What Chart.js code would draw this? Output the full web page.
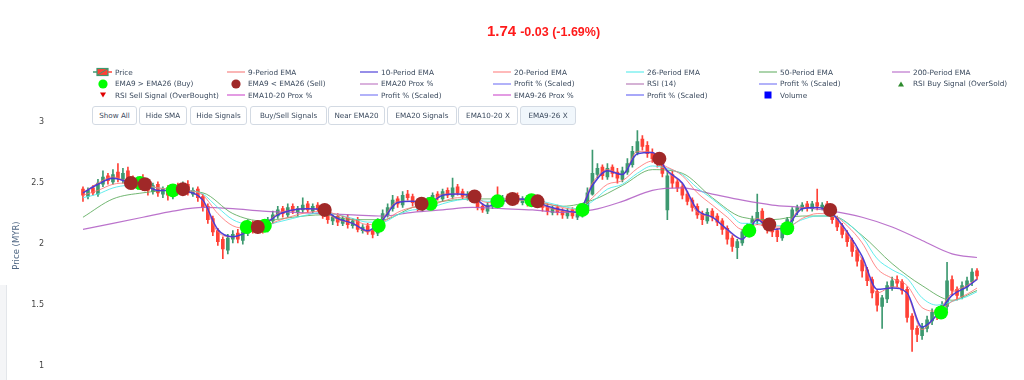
<!DOCTYPE html>
<html>
<head>
<meta charset="utf-8">
<script src="https://cdn.jsdelivr.net/npm/chart.js@4.4.1/dist/chart.umd.min.js"></script>
<style>
  html, body { margin:0; padding:0; background:#fff; width:1024px; height:380px; overflow:hidden; }
  #wrap { position:relative; width:1024px; height:380px; overflow:hidden; font-family:"DejaVu Sans", Verdana, sans-serif; }
  #c { position:absolute; left:0; top:0; }
  #title { position:absolute; left:487px; top:22px; color:#ff1a1a; font-family:"Liberation Sans", Arial, sans-serif; font-weight:bold; white-space:nowrap; }
  #title .big { font-size:15px; }
  #title .small { font-size:12.5px; margin-left:4px; }
  .li { position:absolute; height:11px; display:flex; align-items:center; white-space:nowrap; font-size:7.3px; color:#3b4a5e; }
  .li svg { width:20px; height:10px; margin-right:2px; flex:none; }
  .btn { position:absolute; top:106px; height:19px; box-sizing:border-box; border:1px solid #d3dae3; border-radius:3px; background:#fff;
         font-size:7.2px; color:#3b4a5e; display:flex; align-items:center; justify-content:center; white-space:nowrap; }
  .btn.active { background:#f1f7fc; }
  #side { position:absolute; left:0; top:285px; width:6px; height:95px; background:#f4f5f7; border-right:1px solid #e3e6ea; }
</style>
</head>
<body>
<div id="wrap">
  <canvas id="c" width="1024" height="397"></canvas>
  <div id="side"></div>
  <div id="title"><span class="big">1.74</span><span class="small">-0.03 (-1.69%)</span></div>
  <div id="legend"></div>
  <div id="buttons"></div>
</div>
<script>
// ---------------- DATA ----------------
const openP = [
 2.45,2.39,2.46,2.41,2.49,2.56,2.51,2.59,2.53,2.60,
 2.53,2.47,2.54,2.48,2.43,2.49,2.41,2.46,2.39,2.47,
 2.43,2.49,2.41,2.45,2.39,2.31,2.21,2.11,2.04,1.95,
 2.04,2.09,2.03,2.09,2.17,2.11,2.16,2.12,2.19,2.23,
 2.29,2.24,2.31,2.26,2.28,2.33,2.27,2.32,2.30,2.25,
 2.19,2.23,2.17,2.22,2.15,2.20,2.11,2.15,2.11,2.09,
 2.17,2.24,2.29,2.37,2.32,2.41,2.39,2.35,2.29,2.32,
 2.35,2.41,2.37,2.44,2.39,2.47,2.43,2.38,2.42,2.37,
 2.31,2.27,2.31,2.37,2.33,2.39,2.35,2.40,2.34,2.38,
 2.33,2.37,2.33,2.31,2.26,2.30,2.27,2.23,2.28,2.22,
 2.24,2.29,2.41,2.57,2.63,2.55,2.63,2.59,2.53,2.59,
 2.65,2.75,2.86,2.81,2.75,2.71,2.67,2.28,2.57,2.51,
 2.47,2.41,2.36,2.31,2.25,2.19,2.27,2.23,2.19,2.13,
 2.05,1.97,2.01,2.09,2.13,2.19,2.27,2.19,2.13,2.11,
 2.05,2.11,2.19,2.27,2.29,2.33,2.29,2.34,2.30,2.33,
 2.27,2.21,2.15,2.09,2.03,1.95,1.87,1.79,1.71,1.61,
 1.49,1.55,1.65,1.71,1.69,1.63,1.41,1.31,1.25,1.31,
 1.37,1.45,1.41,1.49,1.71,1.63,1.57,1.65,1.69,1.78
];
const highP = [
 2.47,2.46,2.48,2.53,2.60,2.58,2.61,2.66,2.62,2.63,
 2.56,2.55,2.57,2.50,2.50,2.51,2.47,2.48,2.49,2.50,
 2.51,2.52,2.46,2.47,2.41,2.33,2.23,2.13,2.06,2.08,
 2.11,2.12,2.13,2.20,2.19,2.18,2.18,2.22,2.27,2.31,
 2.31,2.33,2.33,2.31,2.38,2.35,2.33,2.34,2.32,2.27,
 2.24,2.25,2.23,2.24,2.21,2.22,2.16,2.17,2.13,2.21,
 2.28,2.33,2.40,2.39,2.43,2.44,2.41,2.37,2.35,2.38,
 2.42,2.43,2.45,2.46,2.54,2.49,2.45,2.43,2.44,2.39,
 2.33,2.34,2.38,2.47,2.40,2.41,2.41,2.42,2.39,2.40,
 2.38,2.39,2.35,2.33,2.31,2.32,2.29,2.29,2.30,2.27,
 2.33,2.46,2.77,2.66,2.65,2.66,2.65,2.62,2.63,2.70,
 2.80,2.93,2.89,2.84,2.78,2.74,2.69,2.60,2.60,2.53,
 2.49,2.43,2.38,2.33,2.27,2.29,2.29,2.25,2.21,2.15,
 2.07,2.04,2.12,2.17,2.23,2.41,2.29,2.21,2.15,2.13,
 2.14,2.22,2.30,2.32,2.34,2.35,2.35,2.45,2.34,2.35,
 2.29,2.23,2.17,2.11,2.05,1.97,1.89,1.81,1.73,1.63,
 1.58,1.69,1.73,1.74,1.71,1.65,1.43,1.33,1.35,1.41,
 1.47,1.48,1.53,1.85,1.74,1.65,1.69,1.73,1.80,1.80
];
const lowP = [
 2.35,2.37,2.40,2.39,2.47,2.49,2.49,2.51,2.50,2.49,
 2.45,2.45,2.44,2.40,2.41,2.39,2.38,2.36,2.37,2.42,
 2.41,2.40,2.39,2.35,2.27,2.17,2.07,1.99,1.88,1.92,
 2.01,2.01,2.00,2.07,2.09,2.09,2.09,2.10,2.17,2.21,
 2.22,2.22,2.25,2.23,2.26,2.26,2.25,2.27,2.21,2.17,
 2.16,2.15,2.15,2.13,2.13,2.10,2.09,2.08,2.05,2.07,
 2.15,2.22,2.27,2.30,2.30,2.36,2.31,2.27,2.27,2.30,
 2.33,2.36,2.35,2.38,2.37,2.40,2.37,2.36,2.34,2.28,
 2.26,2.25,2.29,2.32,2.31,2.34,2.33,2.33,2.32,2.31,
 2.31,2.30,2.27,2.24,2.24,2.24,2.21,2.21,2.21,2.20,
 2.22,2.27,2.40,2.54,2.53,2.53,2.55,2.50,2.51,2.57,
 2.63,2.73,2.77,2.71,2.67,2.63,2.55,2.20,2.46,2.43,
 2.37,2.32,2.27,2.21,2.16,2.17,2.19,2.15,2.08,2.00,
 1.94,1.88,1.99,2.06,2.11,2.16,2.15,2.09,2.06,2.02,
 2.03,2.09,2.17,2.24,2.27,2.27,2.27,2.28,2.28,2.23,
 2.17,2.11,2.05,1.98,1.90,1.82,1.73,1.66,1.56,1.45,
 1.31,1.52,1.62,1.65,1.59,1.36,1.12,1.20,1.22,1.28,
 1.34,1.38,1.39,1.46,1.58,1.54,1.55,1.62,1.66,1.71
];
const closeP = [
 2.40,2.44,2.42,2.50,2.55,2.52,2.57,2.54,2.58,2.52,
 2.48,2.53,2.47,2.44,2.48,2.42,2.45,2.40,2.46,2.44,
 2.48,2.42,2.44,2.38,2.30,2.20,2.10,2.02,1.96,2.05,
 2.08,2.04,2.10,2.16,2.12,2.15,2.12,2.20,2.24,2.28,
 2.25,2.30,2.27,2.29,2.32,2.28,2.31,2.29,2.24,2.20,
 2.22,2.18,2.21,2.16,2.19,2.12,2.14,2.10,2.08,2.18,
 2.25,2.30,2.36,2.33,2.40,2.38,2.34,2.30,2.33,2.36,
 2.40,2.38,2.43,2.40,2.46,2.42,2.39,2.41,2.36,2.30,
 2.28,2.32,2.36,2.34,2.38,2.36,2.39,2.35,2.37,2.34,
 2.36,2.32,2.30,2.27,2.29,2.26,2.24,2.27,2.23,2.25,
 2.30,2.42,2.58,2.62,2.56,2.62,2.58,2.54,2.60,2.66,
 2.76,2.84,2.80,2.74,2.70,2.66,2.58,2.56,2.50,2.46,
 2.40,2.35,2.30,2.24,2.20,2.26,2.22,2.18,2.12,2.04,
 1.98,2.02,2.10,2.14,2.20,2.26,2.18,2.12,2.10,2.06,
 2.12,2.20,2.28,2.30,2.32,2.30,2.33,2.31,2.32,2.26,
 2.20,2.14,2.08,2.02,1.94,1.86,1.78,1.70,1.60,1.50,
 1.56,1.66,1.70,1.68,1.62,1.40,1.30,1.26,1.32,1.38,
 1.44,1.42,1.50,1.70,1.62,1.58,1.66,1.70,1.77,1.74
];

// sample positions (candle index) for the moving-average lines
const fastIdx = [0,3,6,9,12,15,18,21,24,27,30,33,36,39,42,45,48,51,54,57,
  60,63,66,69,72,75,78,81,84,87,90,93,96,99,102,105,108,111,114,117,
  120,123,126,129,132,135,138,141,144,147,150,153,156,159,162,165,168,171,174,177,179];
const slowIdx = [0,6,12,18,24,30,36,42,48,54,60,66,72,78,84,90,96,102,108,114,
  120,126,132,138,144,150,156,162,168,174,179];

const ema9 = [2.42,2.50,2.55,2.51,2.48,2.44,2.44,2.43,2.35,2.10,
  2.06,2.11,2.15,2.25,2.28,2.29,2.27,2.20,2.17,2.10,
  2.21,2.35,2.35,2.33,2.41,2.41,2.38,2.31,2.35,2.37,
  2.35,2.30,2.27,2.26,2.50,2.61,2.57,2.76,2.75,2.59,
  2.49,2.26,2.22,2.11,2.04,2.21,2.12,2.16,2.30,2.30,
  2.24,2.08,1.87,1.60,1.65,1.59,1.30,1.43,1.60,1.66,1.72];
const ema10 = [2.42,2.49,2.54,2.51,2.49,2.44,2.44,2.43,2.36,2.12,
  2.06,2.10,2.15,2.24,2.28,2.29,2.28,2.21,2.17,2.11,
  2.20,2.34,2.35,2.33,2.40,2.41,2.39,2.31,2.35,2.37,
  2.36,2.31,2.28,2.26,2.48,2.60,2.57,2.74,2.75,2.60,
  2.50,2.28,2.22,2.12,2.04,2.20,2.12,2.15,2.29,2.30,
  2.25,2.10,1.90,1.63,1.64,1.60,1.32,1.42,1.58,1.65,1.71];
const ema20 = [2.40,2.44,2.49,2.50,2.49,2.46,2.45,2.44,2.40,2.25,
  2.15,2.13,2.14,2.19,2.23,2.26,2.27,2.24,2.20,2.16,
  2.18,2.26,2.30,2.31,2.35,2.38,2.38,2.34,2.35,2.36,
  2.36,2.33,2.30,2.28,2.38,2.49,2.52,2.62,2.68,2.63,
  2.56,2.42,2.32,2.22,2.12,2.16,2.14,2.14,2.21,2.25,
  2.24,2.15,2.01,1.80,1.72,1.66,1.48,1.45,1.53,1.59,1.64];
const ema26 = [2.38,2.41,2.46,2.48,2.48,2.46,2.45,2.44,2.41,2.30,
  2.20,2.16,2.15,2.18,2.21,2.24,2.26,2.24,2.21,2.18,
  2.18,2.24,2.28,2.29,2.33,2.36,2.37,2.35,2.35,2.36,
  2.36,2.34,2.31,2.29,2.35,2.45,2.49,2.58,2.64,2.62,
  2.57,2.46,2.37,2.27,2.17,2.17,2.15,2.15,2.20,2.23,
  2.23,2.17,2.06,1.88,1.79,1.72,1.56,1.50,1.53,1.57,1.61];
const ema50 = [2.22,2.37,2.42,2.44,2.42,2.25,2.19,2.22,2.24,2.20,
  2.20,2.30,2.35,2.37,2.37,2.35,2.31,2.36,2.48,2.61,
  2.58,2.38,2.22,2.20,2.23,2.23,2.07,1.84,1.66,1.54,1.62];
const ema200 = [2.12,2.17,2.22,2.27,2.30,2.29,2.27,2.26,2.25,2.24,
  2.23,2.26,2.28,2.30,2.29,2.28,2.26,2.28,2.35,2.44,
  2.46,2.41,2.36,2.32,2.30,2.27,2.22,2.14,2.03,1.92,1.89];

// EMA9/EMA26 crossover signals (candle position, price)
const buyIdx  = [11.4,18,32.8,36.4,59.2,69.6,83,89.8,100,133.4,141,171.8];
const buyVal  = [2.50,2.44,2.14,2.15,2.15,2.33,2.35,2.36,2.28,2.11,2.13,1.44];
const sellIdx = [9.6,12.4,20,35,48.4,67.8,78.4,86,91,115.4,137.4,149.6];
const sellVal = [2.50,2.49,2.45,2.14,2.28,2.33,2.39,2.37,2.35,2.70,2.16,2.28];

const yTicks = [1, 1.5, 2, 2.5, 3];
const buttonLabels = ['Show All','Hide SMA','Hide Signals','Buy/Sell Signals','Near EMA20','EMA20 Signals','EMA10-20 X','EMA9-26 X'];

// ---------------- CHART ----------------
const UP = '#3D9970', DOWN = '#FF4136';
const candleIdx = closeP.map((_, i) => i);
const candleColor = ctx => (closeP[ctx.dataIndex] >= openP[ctx.dataIndex] ? UP : DOWN);
const pts = (xs, ys) => xs.map((x, k) => ({ x: x, y: ys[k] }));
const lineDs = (label, xs, ys, color, width, order) => ({
  type: 'line', label, data: pts(xs, ys), borderColor: color, backgroundColor: color,
  borderWidth: width, pointRadius: 0, fill: false, cubicInterpolationMode: 'monotone', order, legendType: 'line'
});
const legendOnly = (label, color, legendType) => ({ type: 'line', label, data: [], borderColor: color, backgroundColor: color, legendType });

const datasets = [
  { type: 'bar', label: 'Price', legendType: 'candle', order: 20, grouped: false, barThickness: 3, minBarLength: 1,
    data: candleIdx.map(i => ({ x: i, y: [openP[i], closeP[i]] })), backgroundColor: candleColor },
  { type: 'bar', label: 'Price range', legendSkip: true, order: 21, grouped: false, barThickness: 1,
    data: candleIdx.map(i => ({ x: i, y: [lowP[i], highP[i]] })), backgroundColor: candleColor },
  lineDs('9-Period EMA', fastIdx, ema9, 'rgba(245,110,110,0.85)', 1, 3),
  lineDs('10-Period EMA', fastIdx, ema10, 'rgba(70,55,215,0.95)', 1.5, 2),
  lineDs('20-Period EMA', fastIdx, ema20, 'rgba(255,110,110,0.8)', 1, 4),
  lineDs('26-Period EMA', fastIdx, ema26, 'rgba(80,235,235,0.9)', 1, 5),
  lineDs('50-Period EMA', slowIdx, ema50, 'rgba(90,170,90,0.85)', 1, 6),
  lineDs('200-Period EMA', slowIdx, ema200, 'rgba(175,90,195,0.85)', 1.2, 7),
  { type: 'scatter', label: 'EMA9 > EMA26 (Buy)', legendType: 'circle', order: 1, data: pts(buyIdx, buyVal),
    pointRadius: 7, pointHoverRadius: 7, backgroundColor: '#00ff00', borderColor: '#00ff00', borderWidth: 0 },
  { type: 'scatter', label: 'EMA9 < EMA26 (Sell)', legendType: 'circle', order: 0, data: pts(sellIdx, sellVal),
    pointRadius: 7, pointHoverRadius: 7, backgroundColor: '#a02828', borderColor: '#a02828', borderWidth: 0 },
  legendOnly('EMA20 Prox %', '#c27fc7', 'line'),
  legendOnly('Profit % (Scaled)', '#7f7ff5', 'line'),
  legendOnly('RSI (14)', '#b97fb9', 'line'),
  legendOnly('Profit % (Scaled)', '#7f7ff5', 'line'),
  legendOnly('RSI Buy Signal (OverSold)', '#2e8b2e', 'triUp'),
  legendOnly('RSI Sell Signal (OverBought)', '#e00000', 'triDown'),
  legendOnly('EMA10-20 Prox %', '#d05ad0', 'line'),
  legendOnly('Profit % (Scaled)', '#7f7ff5', 'line'),
  legendOnly('EMA9-26 Prox %', '#d05ad0', 'line'),
  legendOnly('Profit % (Scaled)', '#6f6ff5', 'line'),
  legendOnly('Volume', '#0000ff', 'square')
];

const chart = new Chart(document.getElementById('c'), {
  type: 'bar',
  data: { datasets },
  options: {
    responsive: false,
    animation: false,
    events: [],
    layout: { padding: { top: 115, bottom: 5, left: 0, right: 24 } },
    plugins: { legend: { display: false }, tooltip: { enabled: false } },
    scales: {
      x: { type: 'linear', min: -4.6, max: 183.6, display: false, offset: false, grid: { display: false } },
      y: {
        type: 'linear', min: 0.9177, max: 3.0576,
        grid: { display: false, drawTicks: false }, border: { display: false },
        afterFit(s) { s.width = 60; },
        afterBuildTicks(s) { s.ticks = yTicks.map(v => ({ value: v })); },
        ticks: { padding: 16, color: '#444', font: { family: 'DejaVu Sans', size: 8 }, callback: v => String(v) },
        title: { display: true, text: 'Price (MYR)', color: '#506784', font: { family: 'DejaVu Sans', size: 8.5 }, padding: { top: 12, bottom: 0 } }
      }
    }
  }
});

// ---------------- HTML LEGEND (built from the chart's datasets) ----------------
function symbolSvg(ds) {
  const c = ds.borderColor;
  switch (ds.legendType) {
    case 'candle':
      return '<svg viewBox="0 0 20 10"><line x1="0" y1="5" x2="4" y2="5" stroke="' + UP + '" stroke-width="1.5"/>' +
             '<rect x="4" y="1.5" width="11" height="7" fill="' + DOWN + '" stroke="' + UP + '" stroke-width="1.2"/>' +
             '<line x1="4" y1="8.5" x2="15" y2="1.5" stroke="' + UP + '" stroke-width="1"/>' +
             '<line x1="15" y1="5" x2="19" y2="5" stroke="' + DOWN + '" stroke-width="1.5"/></svg>';
    case 'circle':
      return '<svg viewBox="0 0 20 10"><circle cx="10" cy="5" r="4.6" fill="' + c + '"/></svg>';
    case 'triUp':
      return '<svg viewBox="0 0 20 10"><polygon points="7,7.5 13,7.5 10,2.5" fill="' + c + '"/></svg>';
    case 'triDown':
      return '<svg viewBox="0 0 20 10"><polygon points="7,2.5 13,2.5 10,7.5" fill="' + c + '"/></svg>';
    case 'square':
      return '<svg viewBox="0 0 20 10"><rect x="6.5" y="1.5" width="7" height="7" fill="' + c + '"/></svg>';
    default:
      return '<svg viewBox="0 0 20 10"><line x1="1" y1="5" x2="19" y2="5" stroke="' + c + '" stroke-width="1.2"/></svg>';
  }
}
const legendBox = document.getElementById('legend');
let k = 0;
chart.data.datasets.forEach(ds => {
  if (ds.legendSkip) return;
  const col = k % 7, row = Math.floor(k / 7); k++;
  const item = document.createElement('div');
  item.className = 'li';
  item.style.left = (93 + 133 * col) + 'px';
  item.style.top = (66.5 + 11.5 * row) + 'px';
  item.innerHTML = symbolSvg(ds);
  const t = document.createElement('span');
  t.textContent = ds.label;
  item.appendChild(t);
  legendBox.appendChild(item);
});

// ---------------- BUTTONS ----------------
const btnLeft = [92, 139, 190, 250, 328, 387, 458, 520];
const btnRight = [137, 187, 247, 327, 385, 457, 518, 576];
const btnBox = document.getElementById('buttons');
buttonLabels.forEach((lab, i) => {
  const b = document.createElement('div');
  b.className = 'btn' + (i === buttonLabels.length - 1 ? ' active' : '');
  b.style.left = btnLeft[i] + 'px';
  b.style.width = (btnRight[i] - btnLeft[i]) + 'px';
  b.textContent = lab;
  btnBox.appendChild(b);
});
</script>
</body>
</html>
